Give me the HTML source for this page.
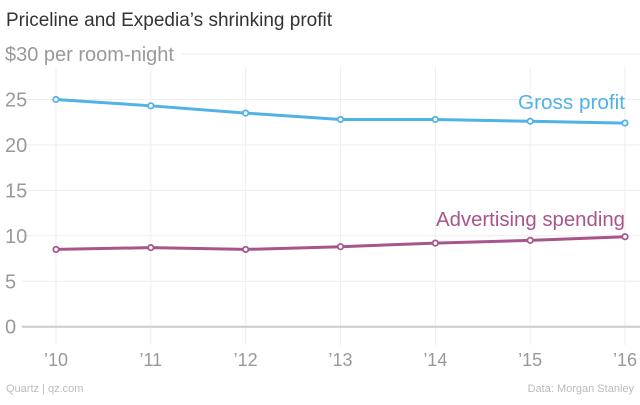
<!DOCTYPE html>
<html><head><meta charset="utf-8"><style>
body{margin:0;background:#fff;font-family:"Liberation Sans",sans-serif}
svg text{font-family:"Liberation Sans",sans-serif}
</style></head><body>
<svg width="640" height="400" viewBox="0 0 640 400">
<text x="6" y="26" font-size="19" fill="#333">Priceline and Expedia’s shrinking profit</text>
<g id="grid"></g>
<g id="marks"></g>
<text x="518" y="109" font-size="20" textLength="107" lengthAdjust="spacingAndGlyphs" fill="#51b2e5">Gross profit</text>
<text x="436" y="226" font-size="20" textLength="189" lengthAdjust="spacingAndGlyphs" fill="#a8558b">Advertising spending</text>
<text x="6" y="392" font-size="11" fill="#bbb">Quartz | qz.com</text>
<text x="634" y="392" font-size="11" fill="#bbb" text-anchor="end">Data: Morgan Stanley</text>
</svg>
<script>
const categories=["’10","’11","’12","’13","’14","’15","’16"];
const grossProfit=[25.0,24.3,23.5,22.8,22.8,22.6,22.4];
const adSpending=[8.5,8.7,8.5,8.8,9.2,9.5,9.9];
const yTicks=[0,5,10,15,20,25,30];
const NS="http://www.w3.org/2000/svg";
const x=i=>56+i*(625-56)/(categories.length-1);
const y=v=>326.7-v*9.09;
const grid=document.getElementById('grid'),marks=document.getElementById('marks');
function mk(tag,attrs,parent){const e=document.createElementNS(NS,tag);for(const k in attrs)e.setAttribute(k,attrs[k]);parent.appendChild(e);return e;}
categories.forEach((c,i)=>{
 const l=mk('line',{x1:x(i),x2:x(i),y1:67,y2:345,stroke:'#eee','stroke-width':1},grid);
 
 
 const t=mk('text',{x:x(i),y:366,'font-size':18,fill:'#999','text-anchor':'middle'},grid);
 t.textContent=c;
 
 
});
yTicks.forEach(v=>{
 const l=mk('line',{x1:v==30?182:22,x2:640,y1:y(v),y2:y(v),stroke:v==0?'#ccc':'#eee','stroke-width':v==0?2:1},grid);
 
 
 const t=mk('text',{x:5,y:y(v)+7,'font-size':20,fill:'#999'},grid);
 t.textContent=v==30?'$30 per room-night':String(v);
 
 
});
function series(vals,color,name){
 const p=mk('polyline',{points:vals.map((v,i)=>x(i)+','+y(v)).join(' '),fill:'none',stroke:color,'stroke-width':3},marks);
 
 
 vals.forEach((v,i)=>{
  const c=mk('circle',{cx:x(i),cy:y(v),r:2.7,fill:'#fff',stroke:color,'stroke-width':1.8},marks);
  
  
 });
}
series(grossProfit,'#51b2e5','gross-profit');
series(adSpending,'#a8558b','advertising');
</script>
</body></html>
